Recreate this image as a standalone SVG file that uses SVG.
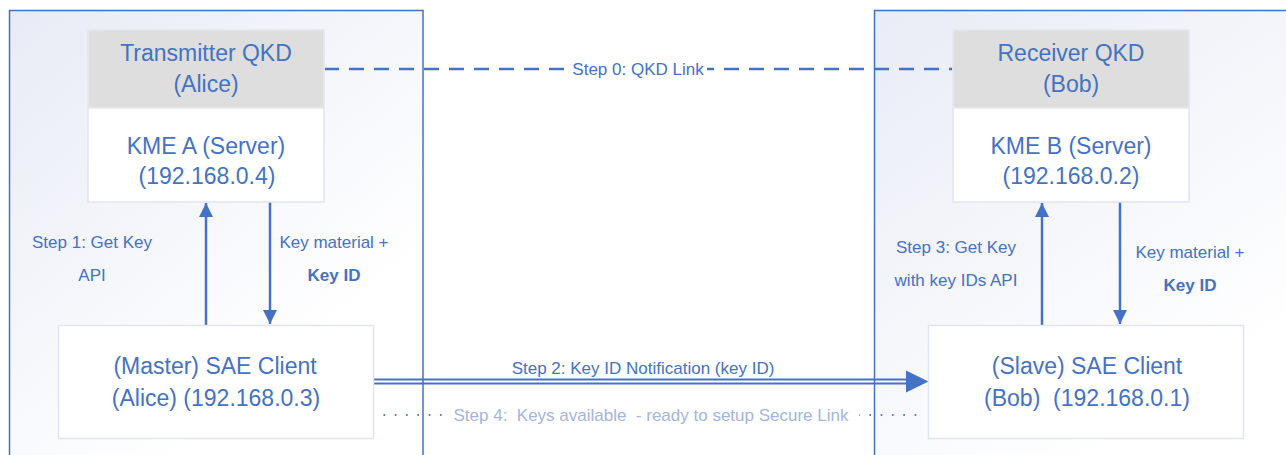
<svg xmlns="http://www.w3.org/2000/svg" width="1286" height="455" viewBox="0 0 1286 455">
  <defs>
    <linearGradient id="gL" gradientUnits="userSpaceOnUse" x1="9" y1="10" x2="300" y2="360">
      <stop offset="0" stop-color="#e8ebf6"/>
      <stop offset="1" stop-color="#ffffff"/>
    </linearGradient>
    <linearGradient id="gR" gradientUnits="userSpaceOnUse" x1="874" y1="10" x2="1160" y2="420">
      <stop offset="0" stop-color="#e9ecf6"/>
      <stop offset="1" stop-color="#ffffff"/>
    </linearGradient>
    <marker id="ah" markerWidth="14" markerHeight="14" refX="14" refY="7" orient="auto" markerUnits="userSpaceOnUse">
      <path d="M0,0 L14,7 L0,14 Z" fill="#4472c4"/>
    </marker>
  </defs>
  <style>
    .t { font-family: "Liberation Sans", Arial, sans-serif; fill: #4472c4; text-anchor: middle; }
    .big { font-size: 23px; }
    .sm { font-size: 17px; }
    .b { font-weight: bold; }
    .faint { fill: #a3b5dd; }
    .hdr { fill: #dedede; stroke: #e6e9f0; stroke-width: 1.5; }
    .body { fill: #ffffff; stroke: #e0e5f1; stroke-width: 1.5; }
    .cont { stroke: #4472c4; stroke-width: 1.5; }
    .ln { stroke: #4472c4; stroke-width: 2.5; fill: none; }
  </style>
  <rect width="1286" height="455" fill="#ffffff"/>

  <g id="container-left">
    <rect class="cont" x="9.5" y="10.5" width="413.5" height="470" fill="url(#gL)"/>
  </g>
  <g id="container-right">
    <rect class="cont" x="874.5" y="10.5" width="440" height="470" fill="url(#gR)"/>
  </g>

  <g id="connectors">
    <line x1="324" y1="69" x2="953" y2="69" stroke="#4472c4" stroke-width="2.5" stroke-dasharray="15 10"/>
    <rect x="571" y="59" width="136" height="21" fill="#ffffff"/>
    <text class="t sm" x="638" y="75">Step 0: QKD Link</text>

    <line class="ln" x1="206" y1="325" x2="206" y2="203" marker-end="url(#ah)"/>
    <line class="ln" x1="270" y1="202" x2="270" y2="324" marker-end="url(#ah)"/>
    <line class="ln" x1="1042" y1="325" x2="1042" y2="203" marker-end="url(#ah)"/>
    <line class="ln" x1="1120" y1="202" x2="1120" y2="324" marker-end="url(#ah)"/>

    <path d="M907,379.5 H372.5 A2,2 0 0 0 372.5,383.5 H907" fill="none" stroke="#4472c4" stroke-width="2"/>
    <path d="M906,370.5 L928.5,381.5 L906,392.5 Z" fill="#4472c4"/>
    <line x1="373" y1="415" x2="925" y2="415" stroke="#4472c4" stroke-width="2" stroke-linecap="round" stroke-dasharray="0 11.3"/>
    <rect x="443" y="404" width="417" height="22" fill="#ffffff" opacity="0"/>

    <text class="t sm" x="92" y="248">Step 1: Get Key</text>
    <text class="t sm" x="92" y="281">API</text>
    <text class="t sm" x="334" y="248">Key material +</text>
    <text class="t sm b" x="334" y="281">Key ID</text>

    <text class="t sm" x="956" y="253">Step 3: Get Key</text>
    <text class="t sm" x="956" y="286">with key IDs API</text>
    <text class="t sm" x="1190" y="258">Key material +</text>
    <text class="t sm b" x="1190" y="291">Key ID</text>

    <text class="t sm" x="643" y="374">Step 2: Key ID Notification (key ID)</text>
    <rect x="443" y="405" width="416" height="20" fill="#ffffff"/>
    <text class="t sm faint" x="651" y="421" style="white-space:pre">Step 4:  Keys available  - ready to setup Secure Link</text>
  </g>

  <g id="node-transmitter">
    <rect class="body" x="88" y="30" width="236" height="172"/>
    <rect class="hdr" x="88" y="30" width="236" height="78"/>
    <text class="t big" x="206" y="61">Transmitter QKD</text>
    <text class="t big" x="206" y="92">(Alice)</text>
    <text class="t big" x="206" y="154">KME A (Server)</text>
    <text class="t big" x="207" y="184">(192.168.0.4)</text>
  </g>

  <g id="node-receiver">
    <rect class="body" x="953" y="30" width="236" height="172"/>
    <rect class="hdr" x="953" y="30" width="236" height="78"/>
    <text class="t big" x="1071" y="61">Receiver QKD</text>
    <text class="t big" x="1071" y="92">(Bob)</text>
    <text class="t big" x="1071" y="154">KME B (Server)</text>
    <text class="t big" x="1071" y="184">(192.168.0.2)</text>
  </g>

  <g id="node-master">
    <rect class="body" x="58.5" y="325.5" width="315" height="113"/>
    <text class="t big" x="215" y="374">(Master) SAE Client</text>
    <text class="t big" x="216" y="406">(Alice) (192.168.0.3)</text>
  </g>

  <g id="node-slave">
    <rect class="body" x="928.5" y="325.5" width="315" height="113"/>
    <text class="t big" x="1087" y="374">(Slave) SAE Client</text>
    <text class="t big" x="1087" y="406" style="white-space:pre">(Bob)  (192.168.0.1)</text>
  </g>
</svg>
